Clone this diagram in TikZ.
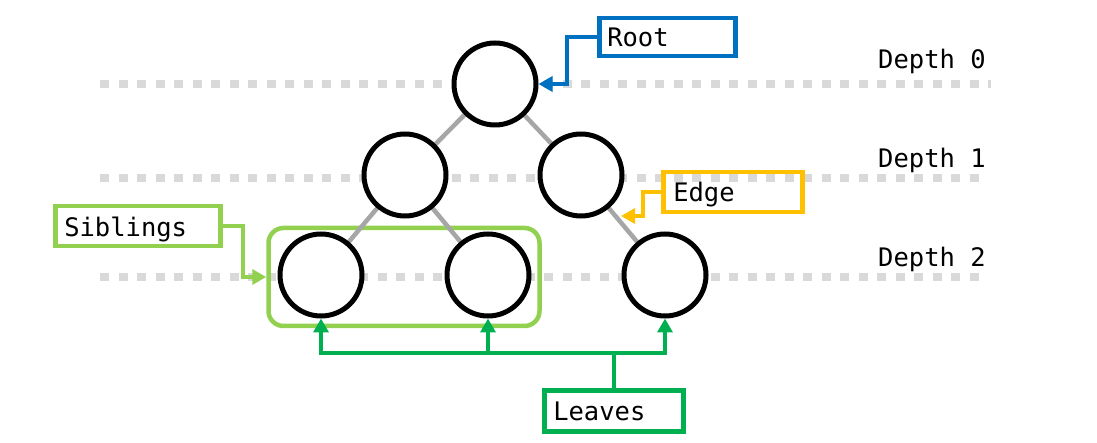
\documentclass[tikz,border=0pt]{standalone}
\usepackage{fontspec}
\setmonofont{DejaVu Sans Mono}
\usetikzlibrary{arrows.meta}
\definecolor{cblue}{HTML}{0070C0}
\definecolor{cyellow}{HTML}{FFC000}
\definecolor{clgreen}{HTML}{92D050}
\definecolor{cgreen}{HTML}{00B050}
\definecolor{cedge}{HTML}{A6A6A6}
\definecolor{cdot}{HTML}{D9D9D9}
\tikzset{
  treenode/.style={circle,draw=black,fill=white,line width=5pt,minimum size=82pt,inner sep=0pt},
  treeedge/.style={draw=cedge,line width=4.5pt},
  depthline/.style={draw=cdot,line width=8pt,dash pattern=on 9pt off 9.5pt},
  lbl/.style={font=\fontsize{25.5}{25.5}\selectfont\ttfamily},
  lblbox/.style={lbl,draw,line width=4.5pt,anchor=north west,inner sep=0pt,text depth=0pt,align=left},
  callout/.style={line width=4.5pt,line join=miter,-{Triangle[length=14pt,width=15pt]}},
}
\begin{document}
\begin{tikzpicture}[x=1pt,y=-1pt]
\useasboundingbox (0,0) rectangle (1097,443);
% depth lines
\draw[depthline] (100,84) -- (991,84);
\draw[depthline] (100,178) -- (982,178);
\draw[depthline] (100,277) -- (982,277);
\node[lbl,anchor=base west,inner sep=0pt] (d0) at (878,69) {Depth 0};
\node[lbl,anchor=base west,inner sep=0pt] (d1) at (878,168) {Depth 1};
\node[lbl,anchor=base west,inner sep=0pt] (d2) at (878,267) {Depth 2};
% siblings box
\node[draw=clgreen,line width=4.5pt,rounded corners=15pt,minimum width=271pt,minimum height=98pt,inner sep=0pt] (sib) at (404,277) {};
% tree
\coordinate (pr) at (495,84);
\coordinate (pa) at (405,175);
\coordinate (pb) at (581,175);
\coordinate (pc) at (321,275);
\coordinate (pd) at (488,275);
\coordinate (pe) at (665,275);
\draw[treeedge] (pr) -- (pa) (pr) -- (pb) (pa) -- (pc) (pa) -- (pd) (pb) -- (pe);
\node[treenode] (r) at (pr) {};
\node[treenode] (a) at (pa) {};
\node[treenode] (b) at (pb) {};
\node[treenode] (c) at (pc) {};
\node[treenode] (d) at (pd) {};
\node[treenode] (e) at (pe) {};
% labels
\node[lblbox,draw=cblue,minimum width=136pt,minimum height=38pt,text width=120pt,inner xsep=8pt] (root) at (597,16) {Root};
\node[lblbox,draw=cyellow,minimum width=139pt,minimum height=40pt,text width=119pt,inner xsep=10pt] (edge) at (661,170) {Edge};
\node[lblbox,draw=clgreen,minimum width=165pt,minimum height=40pt,text width=147pt,inner xsep=9pt] (sibl) at (53,204) {Siblings};
\node[lblbox,draw=cgreen,minimum width=139pt,minimum height=41pt,text width=121pt,inner xsep=9pt] (leaves) at (542,388) {Leaves};
% callouts
\draw[callout,cblue] (root.west) -| (567,84) -- (r.east);
\coordinate (edgept) at (621,216);
\draw[callout,cyellow] (edge.west) -| (643,216) -- (edgept);
\draw[callout,clgreen] (sibl.east) -| (243,277) -- (sib.west);
\path (leaves.north) ++(0,-35) coordinate (j);
\draw[line width=4.5pt,cgreen] (leaves.north) -- (j);
\draw[callout,cgreen] (j) -| (c.south);
\draw[callout,cgreen] (j) -| (d.south);
\draw[callout,cgreen] (j) -| (e.south);
\end{tikzpicture}
\end{document}
